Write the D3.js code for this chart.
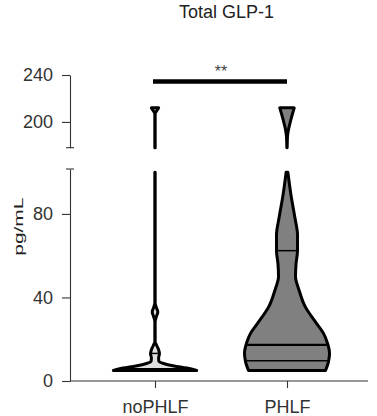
<!DOCTYPE html>
<html>
<head>
<meta charset="utf-8">
<script src="https://cdn.jsdelivr.net/npm/d3@7"></script>
<style>
body { margin: 0; background: #fff; }
text { font-family: "Liberation Sans", Arial, sans-serif; }
</style>
</head>
<body>
<svg class="chart" width="377" height="416"></svg>
<script>
// groups and colours
var groups = ["noPHLF", "PHLF"];
var fills = ["#e0e0e0", "#808080"];

// tick values for the two axis segments
var lowTicks = [0, 40, 80];
var highTicks = [200, 240];

// violin outlines: value levels + relative density
var noPhlfLowV = [5, 6.2, 7.2, 8.4, 9.6, 11, 13, 15, 17, 18.8, 28.5, 31, 33, 35, 37.5, 100];
var noPhlfLowD = [0.98, 0.75, 0.45, 0.2, 0.09, 0.085, 0.105, 0.085, 0.04, 0.004, 0.004, 0.035, 0.066, 0.035, 0.004, 0.004];
var noPhlfHighV = [178, 207, 209.5, 212];
var noPhlfHighD = [0.004, 0.004, 0.04, 0.085];

var phlfLowV = [5, 9.3, 13.3, 18.1, 22.8, 27.6, 35.6, 43.6, 50, 56, 62.4, 70, 78, 89, 100];
var phlfLowD = [0.906, 0.976, 1.0, 0.953, 0.859, 0.694, 0.428, 0.282, 0.2, 0.212, 0.247, 0.247, 0.188, 0.094, 0.02];
var phlfHighV = [178, 187.6, 193.4, 201.7, 207, 212];
var phlfHighD = [0.004, 0.012, 0.035, 0.09, 0.13, 0.17];

// quartiles [q1, median, q3]
var noPhlfQuart = [5.2, 5.6, 13.2];
var phlfQuart = [9.7, 17.3, 62.4];

var sigLevel = 234.5;
var sigText = "**";

var svg = d3.select("body .chart");

var yLow = d3.scaleLinear().domain([0, 101.5]).range([381, 169]);
var yHigh = d3.scaleLinear().domain([178, 240]).range([147.7, 75]);
var x = d3.scalePoint().domain(groups).range([155, 287]);
var w = d3.scaleLinear().domain([0, 1]).range([0, 42.5]);

var axisColor = "#333";

// title
svg.append("text")
    .attr("x", 226.5).attr("y", 18.3)
    .attr("text-anchor", "middle")
    .style("font-size", "18px").style("fill", "#222")
    .text("Total GLP-1");

// y label (stretched lengthwise, squashed across in the original)
var ylab = svg.append("text")
    .attr("text-anchor", "middle")
    .style("font-size", "18px").style("fill", "#222")
    .text("pg/mL");
var labLen = ylab.node().getComputedTextLength();
ylab.attr("transform", "translate(23,226.7) rotate(-90) scale(" + (58 / labLen) + ",0.74)");

// left axis, two segments
var gLow = svg.append("g").attr("transform", "translate(70,0)")
    .call(d3.axisLeft(yLow).tickValues(lowTicks).tickSize(8).tickSizeOuter(0).tickPadding(9));
var gHigh = svg.append("g").attr("transform", "translate(70,0)")
    .call(d3.axisLeft(yHigh).tickValues(highTicks).tickSize(8).tickSizeOuter(0).tickPadding(9));

[gLow, gHigh].forEach(function(g) {
    g.selectAll("path, line").attr("stroke", axisColor).attr("stroke-width", 1.1);
    g.selectAll("text").style("font-size", "18px").style("fill", axisColor)
        .style("font-family", '"Liberation Sans", Arial, sans-serif');
});

// caps at the break
svg.append("line")
    .attr("x1", 66).attr("x2", 74)
    .attr("y1", yHigh(178)).attr("y2", yHigh(178))
    .attr("stroke", axisColor).attr("stroke-width", 1.1);
svg.append("line")
    .attr("x1", 66).attr("x2", 74)
    .attr("y1", yLow(101.5)).attr("y2", yLow(101.5))
    .attr("stroke", axisColor).attr("stroke-width", 1.1);

// bottom axis
var gx = svg.append("g").attr("transform", "translate(0," + yLow(0) + ")")
    .call(d3.axisBottom(x).tickSize(7).tickPadding(12.5));
gx.select(".domain").remove();
gx.selectAll("line").attr("stroke", axisColor).attr("stroke-width", 1.1);
gx.selectAll("text").style("font-size", "18px").style("fill", axisColor)
    .style("font-family", '"Liberation Sans", Arial, sans-serif');
svg.append("line")
    .attr("x1", 70).attr("x2", 368)
    .attr("y1", yLow(0)).attr("y2", yLow(0))
    .attr("stroke", axisColor).attr("stroke-width", 1.1);

// violins
var violins = [
    {name: "noPHLF", fill: fills[0], low: [noPhlfLowV, noPhlfLowD], high: [noPhlfHighV, noPhlfHighD], q: noPhlfQuart},
    {name: "PHLF", fill: fills[1], low: [phlfLowV, phlfLowD], high: [phlfHighV, phlfHighD], q: phlfQuart}
];

function drawPart(cx, prof, yscale, fill) {
    var pts = prof[0].map(function(v, i) { return {v: v, d: prof[1][i]}; });
    var area = d3.area()
        .curve(d3.curveMonotoneY)
        .y(function(d) { return yscale(d.v); })
        .x0(function(d) { return cx - w(d.d); })
        .x1(function(d) { return cx + w(d.d); });
    svg.append("path")
        .datum(pts)
        .attr("d", area)
        .attr("fill", fill)
        .attr("stroke", "#000")
        .attr("stroke-width", 3)
        .attr("stroke-linejoin", "round");
}

violins.forEach(function(g) {
    var cx = x(g.name);
    drawPart(cx, g.low, yLow, g.fill);
    drawPart(cx, g.high, yHigh, g.fill);

    var dens = d3.scaleLinear().domain(g.low[0]).range(g.low[1]);
    g.q.forEach(function(q, i) {
        var hw = w(dens(q));
        svg.append("line")
            .attr("x1", cx - hw).attr("x2", cx + hw)
            .attr("y1", yLow(q)).attr("y2", yLow(q))
            .attr("stroke", "#000")
            .attr("stroke-width", i == 1 ? 2.4 : 1.5);
    });
});

// significance bar
svg.append("line")
    .attr("x1", x(groups[0]) - 2).attr("x2", x(groups[1]))
    .attr("y1", yHigh(sigLevel)).attr("y2", yHigh(sigLevel))
    .attr("stroke", "#000").attr("stroke-width", 4.6);
svg.append("text")
    .attr("x", (x(groups[0]) + x(groups[1])) / 2)
    .attr("y", 76.5)
    .attr("text-anchor", "middle")
    .style("font-size", "16px").style("fill", "#444")
    .text(sigText);
</script>
</body>
</html>
